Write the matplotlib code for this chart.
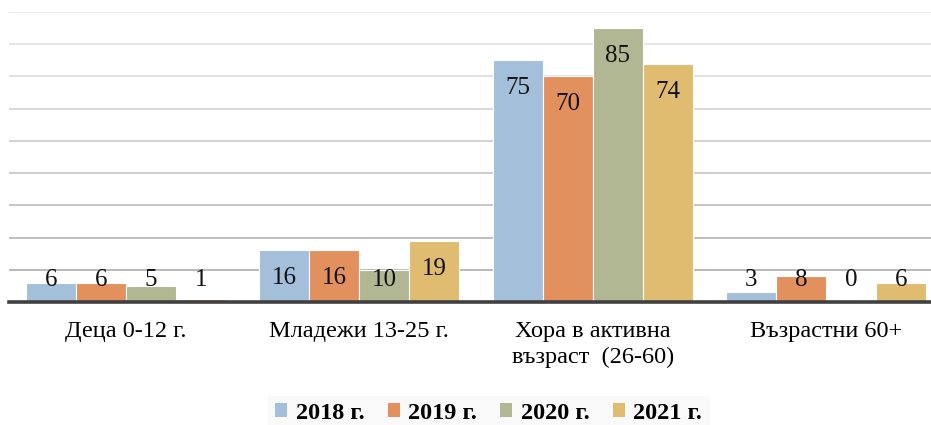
import numpy as np
import matplotlib
matplotlib.use("Agg")
import matplotlib.pyplot as plt
from matplotlib.patches import Patch

categories = ["Деца 0-12 г.", "Младежи 13-25 г.", "Хора в активна\nвъзраст  (26-60)", "Възрастни 60+"]
years = ["2018 г.", "2019 г.", "2020 г.", "2021 г."]
v2018 = [6, 16, 75, 3]
v2019 = [6, 16, 70, 8]
v2020 = [5, 10, 85, 0]
v2021 = [1, 19, 74, 6]

COLORS = ["#a3bfd9", "#e3905f", "#b0b792", "#dfbc70"]
SERIF = ["Liberation Serif", "DejaVu Serif"]

W, H = 931, 425
fig = plt.figure(figsize=(W / 100, H / 100), dpi=100)
# plot area is wider than the picture: the right edge is cut off
ax = fig.add_axes([9.3 / W, (H - 302) / H, (942.7 - 9.3) / W, (302 - 12) / H])

x = np.arange(len(categories))
w = 0.214
for i, (vals, c) in enumerate(zip([v2018, v2019, v2020, v2021], COLORS)):
    bars = ax.bar(x + (i - 1.5) * w, vals, w, color=c, edgecolor="white",
                  linewidth=0.8, zorder=3)
    for b, v in zip(bars, vals):
        ax.text(b.get_x() + b.get_width() / 2, max(v - 8.7, 6.9), f"{v}",
                ha="center", va="center", fontsize=18, family=SERIF,
                color="#111111", zorder=4)

# gridlines fade lighter toward the top
for k, g in enumerate(range(10, 91, 10)):
    t = k / 8
    shade = 0.70 + 0.22 * t
    ax.axhline(g, color=(shade, shade, shade), lw=1.3, zorder=1)

ax.set_xlim(-0.5, 3.5)
ax.set_ylim(0, 90)
ax.set_yticks([])
ax.set_xticks(x)
ax.set_xticklabels(categories, fontsize=17.5, family=SERIF, linespacing=1.3)
ax.tick_params(axis="x", length=0, pad=14)
for s in ["top", "right", "left"]:
    ax.spines[s].set_visible(False)
ax.spines["bottom"].set_color("#404040")
ax.spines["bottom"].set_linewidth(2.6)
ax.spines["bottom"].set_zorder(5)

handles = [Patch(facecolor=c, label=l) for c, l in zip(COLORS, years)]
leg = fig.legend(handles=handles, loc="center", bbox_to_anchor=(0.525, 0.027),
                 ncol=4, frameon=True, facecolor="#f8f8f8", edgecolor="none",
                 fancybox=False, handlelength=0.5, handleheight=0.5,
                 handletextpad=0.35, columnspacing=0.95, borderpad=0.3,
                 prop={"family": SERIF, "size": 17.5, "weight": "bold"})

fig.savefig("out.png", dpi=100)
